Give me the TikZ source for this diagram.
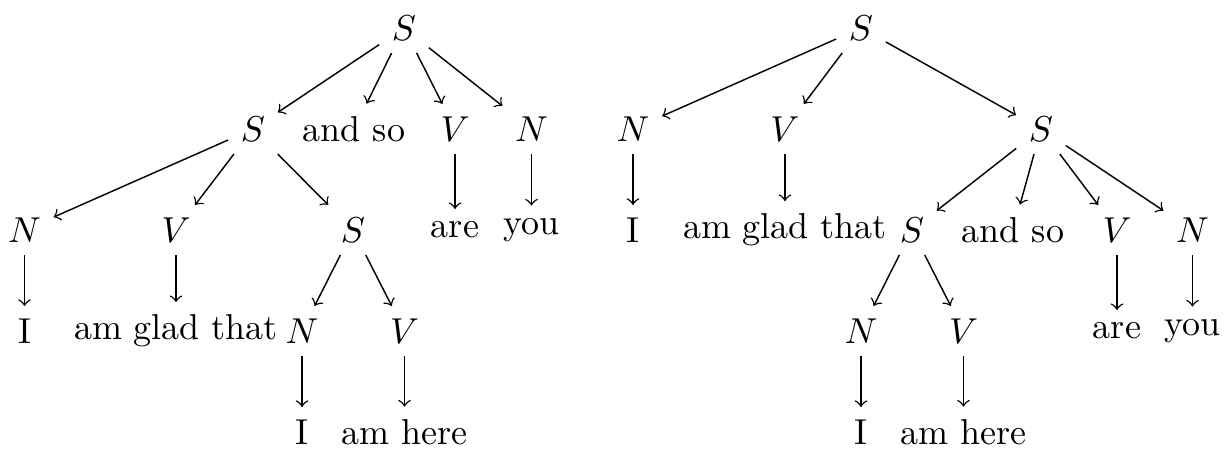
\documentclass[tikz,border=0pt]{standalone}
\begin{document}
\begin{tikzpicture}[x=0.2778pt,y=-0.2778pt,
  tn/.style={inner sep=0.3333em},
  edge/.style={->}]
\useasboundingbox (0,0) rectangle (1228,451);
% left tree
\node[tn] (a0) at (404,28) {$S$};
\node[tn] (a1) at (253,129) {$S$};
\node[tn] (a2) at (354,129) {and so};
\node[tn] (a3) at (455,129) {$V$};
\node[tn] (a4) at (531.5,129) {$N$};
\node[tn] (a5) at (24.5,230) {$N$};
\node[tn] (a6) at (176,230) {$V$};
\node[tn] (a7) at (353,230) {$S$};
\node[tn] (a8) at (455,230) {are};
\node[tn] (a9) at (531.5,230) {you};
\node[tn] (a10) at (24.5,331) {I};
\node[tn] (a11) at (176,331) {am glad that};
\node[tn] (a12) at (302,331) {$N$};
\node[tn] (a13) at (404.5,331) {$V$};
\node[tn] (a14) at (302,432) {I};
\node[tn] (a15) at (404.5,432) {am here};
\draw[edge] (a0) -- (a1);
\draw[edge] (a0) -- (a2);
\draw[edge] (a0) -- (a3);
\draw[edge] (a0) -- (a4);
\draw[edge] (a1) -- (a5);
\draw[edge] (a1) -- (a6);
\draw[edge] (a1) -- (a7);
\draw[edge] (a3) -- (a8);
\draw[edge] (a4) -- (a9);
\draw[edge] (a5) -- (a10);
\draw[edge] (a6) -- (a11);
\draw[edge] (a7) -- (a12);
\draw[edge] (a7) -- (a13);
\draw[edge] (a12) -- (a14);
\draw[edge] (a13) -- (a15);
% right tree
\node[tn] (b0) at (861,28) {$S$};
\node[tn] (b1) at (633,129) {$N$};
\node[tn] (b2) at (785,129) {$V$};
\node[tn] (b3) at (1041,129) {$S$};
\node[tn] (b4) at (633,230) {I};
\node[tn] (b5) at (785,230) {am glad that};
\node[tn] (b6) at (912,230) {$S$};
\node[tn] (b7) at (1013,230) {and so};
\node[tn] (b8) at (1117,230) {$V$};
\node[tn] (b9) at (1192.5,230) {$N$};
\node[tn] (b10) at (861,331) {$N$};
\node[tn] (b11) at (963.5,331) {$V$};
\node[tn] (b12) at (1117,331) {are};
\node[tn] (b13) at (1192.5,331) {you};
\node[tn] (b14) at (861,432) {I};
\node[tn] (b15) at (963.5,432) {am here};
\draw[edge] (b0) -- (b1);
\draw[edge] (b0) -- (b2);
\draw[edge] (b0) -- (b3);
\draw[edge] (b1) -- (b4);
\draw[edge] (b2) -- (b5);
\draw[edge] (b3) -- (b6);
\draw[edge] (b3) -- (b7);
\draw[edge] (b3) -- (b8);
\draw[edge] (b3) -- (b9);
\draw[edge] (b6) -- (b10);
\draw[edge] (b6) -- (b11);
\draw[edge] (b8) -- (b12);
\draw[edge] (b9) -- (b13);
\draw[edge] (b10) -- (b14);
\draw[edge] (b11) -- (b15);
\end{tikzpicture}
\end{document}
